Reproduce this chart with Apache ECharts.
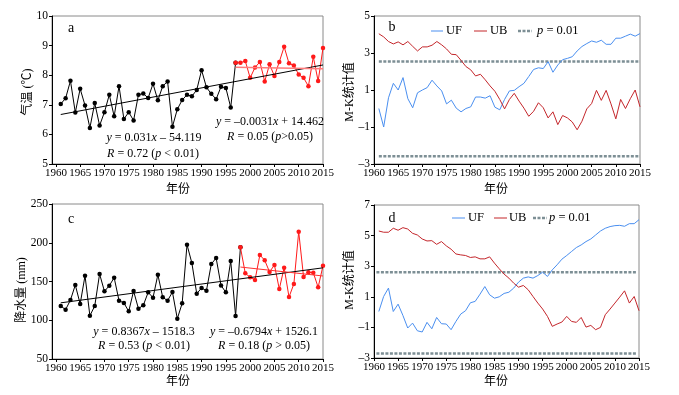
<!DOCTYPE html>
<html><head><meta charset="utf-8">
<script src="https://cdn.jsdelivr.net/npm/echarts@6/dist/echarts.min.js"></script>
<style>html,body{margin:0;padding:0;background:#fff}#c{width:679px;height:395px}</style>
</head><body><div id="c"></div>
<script>
const years = [1961,1962,1963,1964,1965,1966,1967,1968,1969,1970,1971,1972,1973,1974,1975,1976,1977,1978,1979,1980,1981,1982,1983,1984,1985,1986,1987,1988,1989,1990,1991,1992,1993,1994,1995,1996,1997,1998,1999,2000,2001,2002,2003,2004,2005,2006,2007,2008,2009,2010,2011,2012,2013,2014,2015];
const xTicks = [1960,1965,1970,1975,1980,1985,1990,1995,2000,2005,2010,2015];
// panel a: temperature
const temp = [7.03,7.22,7.81,6.74,7.54,6.98,6.22,7.06,6.30,6.75,7.34,6.61,7.63,6.52,6.75,6.47,7.34,7.38,7.23,7.71,7.15,7.63,7.79,6.26,6.85,7.16,7.34,7.29,7.50,8.17,7.59,7.37,7.19,7.61,7.57,6.91,8.42,8.42,8.48,7.91,8.26,8.45,7.79,8.37,7.97,8.45,8.96,8.40,8.33,8.02,7.91,7.63,8.62,7.80,8.92];
const tempSplit = 1997;
const tempFit1 = [0.031, -54.119];   // 1961-2015
const tempFit2 = [-0.0031, 14.462];  // 1997-2015
// panel c: precipitation
const precip = [118.4,113.7,126.1,145.5,121.0,157.5,105.9,118.4,159.7,137.3,144.6,154.9,125.3,122.3,111.5,137.7,115.0,119.3,136.0,129.1,158.8,129.6,125.3,136.4,102.0,121.8,197.5,173.9,134.3,141.6,138.2,172.6,180.3,145.0,136.0,176.5,105.5,194.1,160.5,155.4,151.9,184.2,177.3,162.3,171.3,140.3,167.8,130.0,146.8,214.3,155.8,161.8,161.4,142.5,170.4];
const precipSplit = 1998;
const precipFit1 = [0.8367, -1518.3];
const precipFit2 = [-0.6794, 1526.1];
// panel b: M-K temperature
const ufB = [0.0,-1.0,0.58,1.36,1.0,1.67,0.53,0.04,0.85,1.0,1.13,1.53,1.22,0.95,0.25,0.45,0.02,-0.18,0.0,0.09,0.62,0.62,0.56,0.69,0.07,-0.07,0.49,0.95,0.98,1.18,1.36,1.73,2.11,2.2,2.16,2.53,1.96,2.35,2.64,2.71,2.8,3.11,3.35,3.51,3.65,3.58,3.69,3.47,3.47,3.8,3.8,3.91,4.02,3.91,4.05];
const ubB = [4.04,3.87,3.62,3.49,3.6,3.44,3.62,3.36,3.11,3.33,3.33,3.42,3.62,3.44,3.22,2.93,2.91,2.6,2.27,2.09,1.76,1.85,1.55,1.22,0.93,0.49,-0.02,0.49,0.82,0.4,0.02,-0.42,-0.15,0.31,0.04,-0.51,-0.18,-0.87,-0.38,-0.51,-0.73,-1.15,-0.69,-0.02,0.27,0.98,0.44,0.98,0.25,-0.56,0.49,0.0,0.53,1.0,0.09];
const thrB = [2.54, -2.58];
// panel d: M-K precipitation
const ufD = [0.04,1.02,1.57,0.04,0.52,-0.22,-1.04,-0.72,-1.22,-1.3,-0.67,-1.09,-0.35,-0.76,-0.78,-1.15,-0.61,-0.13,0.09,0.61,0.7,1.17,1.67,1.13,0.91,1.0,1.22,1.3,1.57,1.96,2.22,2.3,2.22,2.39,2.61,2.33,2.76,3.09,3.46,3.7,3.96,4.22,4.39,4.61,4.78,5.04,5.3,5.48,5.59,5.65,5.67,5.61,5.78,5.78,6.04];
const ubD = [5.3,5.22,5.22,5.48,5.35,5.52,5.43,5.15,5.04,4.78,4.65,4.67,4.43,4.61,4.33,4.11,3.8,3.74,3.7,3.57,3.61,3.48,3.48,3.61,3.2,2.83,2.48,2.22,1.89,1.63,1.74,1.46,1.02,0.59,0.2,-0.28,-0.93,-0.78,-0.65,-0.28,-0.61,-0.67,-0.35,-0.98,-0.87,-1.15,-1.0,-0.17,0.2,0.59,0.98,1.39,0.59,1.02,0.09];
const thrD = [2.6, -2.7];

const FONT = '"Liberation Serif","Times New Roman","Noto Sans CJK SC",serif';
const BLUE = '#4a8ff0', DRED = '#c4262b', GREY = '#7d8f95';

const pairs = (vals) => years.map((y, i) => [y, vals[i]]);
const fitLine = (f, a, b) => [[a, f[0]*a + f[1]], [b, f[0]*b + f[1]]];

const chart = echarts.init(document.getElementById('c'), null, {renderer: 'canvas'});

const grids = [
  {left: 52, top: 16, width: 271, height: 148},
  {left: 374, top: 16, width: 266, height: 148},
  {left: 52, top: 204, width: 271, height: 155},
  {left: 374, top: 205, width: 265, height: 153}
].map(g => Object.assign({show: true, borderColor: '#8a8a8a', borderWidth: 1, containLabel: false}, g));

function xAx(gi, min) {
  return {
    type: 'value', gridIndex: gi, min: min, max: 2015,
    axisLine: {show: true, onZero: false, lineStyle: {color: '#000', width: 1}},
    axisTick: {show: true, length: 3, customValues: xTicks, lineStyle: {color: '#000'}},
    axisLabel: {customValues: xTicks, fontFamily: FONT, fontSize: 11, color: '#000', margin: 4,
      hideOverlap: false, showMinLabel: true, showMaxLabel: true, formatter: v => String(v)},
    splitLine: {show: false}
  };
}
function yAx(gi, min, max, interval) {
  return {
    type: 'value', gridIndex: gi, min: min, max: max, interval: interval,
    axisLine: {show: true, onZero: false, lineStyle: {color: '#000', width: 1}},
    axisTick: {show: true, length: 3, lineStyle: {color: '#000'}},
    axisLabel: {fontFamily: FONT, fontSize: 11.5, color: '#000', margin: 4,
      formatter: v => String(v).replace('-', '\u2013')},
    splitLine: {show: false}
  };
}

const dotLine = (xi, data, color, z) => ({
  type: 'line', xAxisIndex: xi, yAxisIndex: xi, data: data,
  symbol: 'circle', symbolSize: 4.5, showSymbol: true,
  lineStyle: {color: color, width: 1}, itemStyle: {color: color}, z: z, animation: false, silent: true
});
const plainLine = (xi, data, color, width, z, type) => ({
  type: 'line', xAxisIndex: xi, yAxisIndex: xi, data: data, symbol: 'none',
  lineStyle: {color: color, width: width, type: type || 'solid'}, z: z, animation: false, silent: true
});

const tempPairs = pairs(temp), precipPairs = pairs(precip);
const series = [
  dotLine(0, tempPairs.filter(p => p[0] <= tempSplit), '#000', 3),
  dotLine(0, tempPairs.filter(p => p[0] >= tempSplit), '#ff1a1a', 4),
  plainLine(0, fitLine(tempFit1, 1961, 2015), '#000', 1, 5),
  plainLine(0, fitLine(tempFit2, tempSplit, 2015), '#ff7a7a', 1.5, 5),
  plainLine(1, pairs(ufB), BLUE, 1, 3),
  plainLine(1, pairs(ubB), DRED, 1, 3),
  plainLine(1, [[1961, thrB[0]], [2015, thrB[0]]], GREY, 2.5, 2, [3, 1.5]),
  plainLine(1, [[1961, thrB[1]], [2015, thrB[1]]], GREY, 2.5, 2, [3, 1.5]),
  dotLine(2, precipPairs.filter(p => p[0] <= precipSplit), '#000', 3),
  dotLine(2, precipPairs.filter(p => p[0] >= precipSplit), '#ff1a1a', 4),
  plainLine(2, fitLine(precipFit1, 1961, 2015), '#000', 1, 5),
  plainLine(2, fitLine(precipFit2, precipSplit, 2015), '#ff3030', 1, 5),
  plainLine(3, pairs(ufD), BLUE, 1, 3),
  plainLine(3, pairs(ubD), DRED, 1, 3),
  plainLine(3, [[1960.5, thrD[0]], [2014.4, thrD[0]]], GREY, 2.5, 2, [3, 1.5]),
  plainLine(3, [[1960.5, thrD[1]], [2014.4, thrD[1]]], GREY, 2.5, 2, [3, 1.5])
];

const rich = {i: {fontStyle: 'italic', fontFamily: FONT, fontSize: 12, fill: '#000'}};
function txt(x, y, text, opts) {
  return Object.assign({
    type: 'text', x: x, y: y, z: 10, silent: true,
    style: Object.assign({text: text, font: '12px ' + FONT, fill: '#000', align: 'center', verticalAlign: 'middle', rich: rich}, (opts && opts.style) || {})
  }, (opts && opts.el) || {});
}
function vtxt(x, y, text) {
  return {type: 'text', x: x, y: y, rotation: Math.PI / 2, z: 10, silent: true,
    style: {text: text, font: '12px ' + FONT, fill: '#000', align: 'center', verticalAlign: 'middle'}};
}
function legLine(x1, x2, y, color, dashed) {
  return {type: 'line', z: 10, silent: true, shape: {x1: x1, y1: y, x2: x2, y2: y},
    style: {stroke: color, lineWidth: dashed ? 2.5 : 1, lineDash: dashed ? [3, 1.5] : null}};
}
function legTxt(x, y, text) {
  return {type: 'text', x: x, y: y, z: 10, silent: true,
    style: {text: text, font: '12.5px ' + FONT, fill: '#000', align: 'left', verticalAlign: 'middle',
      rich: {i: {fontStyle: 'italic', fontFamily: FONT, fontSize: 12.5, fill: '#000'}}}};
}

const graphic = [
  txt(71, 28, 'a', {style: {font: '14px ' + FONT}}),
  txt(392, 27, 'b', {style: {font: '14px ' + FONT}}),
  txt(71, 219, 'c', {style: {font: '14px ' + FONT}}),
  txt(392, 218, 'd', {style: {font: '14px ' + FONT}}),
  txt(154, 138, '{i|y} = 0.031{i|x} \u2013 54.119'),
  txt(153, 154, '{i|R} = 0.72 ({i|p} < 0.01)'),
  txt(270, 122, '{i|y} = \u20130.0031{i|x} + 14.462'),
  txt(270, 137, '{i|R} = 0.05 ({i|p}>0.05)'),
  txt(144, 332, '{i|y} = 0.8367{i|x} \u2013 1518.3'),
  txt(144, 346, '{i|R} = 0.53 ({i|p} < 0.01)'),
  txt(264, 332, '{i|y} = \u20130.6794{i|x} + 1526.1'),
  txt(264, 346, '{i|R} = 0.18 ({i|p} > 0.05)'),
  vtxt(28, 92, '气温 (℃)'),
  vtxt(22, 290, '降水量 (mm)'),
  vtxt(350, 92, 'M-K统计值'),
  vtxt(350, 280, 'M-K统计值'),
  txt(178, 190, '年份'),
  txt(496, 190, '年份'),
  txt(178, 382, '年份'),
  txt(496, 382, '年份'),
  legLine(431, 443, 31, BLUE), legTxt(446, 31, 'UF'),
  legLine(474, 487, 31, DRED), legTxt(490, 31, 'UB'),
  legLine(518, 532, 31, GREY, true), legTxt(537, 31, '{i|p} = 0.01'),
  legLine(452, 465, 218, BLUE), legTxt(468, 218, 'UF'),
  legLine(494, 507, 218, DRED), legTxt(509, 218, 'UB'),
  legLine(533, 547, 218, GREY, true), legTxt(549, 218, '{i|p} = 0.01')
];

chart.setOption({
  animation: false,
  backgroundColor: '#fff',
  grid: grids,
  xAxis: [xAx(0, 1959.2), xAx(1, 1960), xAx(2, 1959.2), xAx(3, 1960)],
  yAxis: [yAx(0, 5, 10, 1), yAx(1, -3, 5, 2), yAx(2, 50, 250, 50), yAx(3, -3, 7, 2)],
  series: series,
  graphic: graphic
});
</script>
</body></html>
